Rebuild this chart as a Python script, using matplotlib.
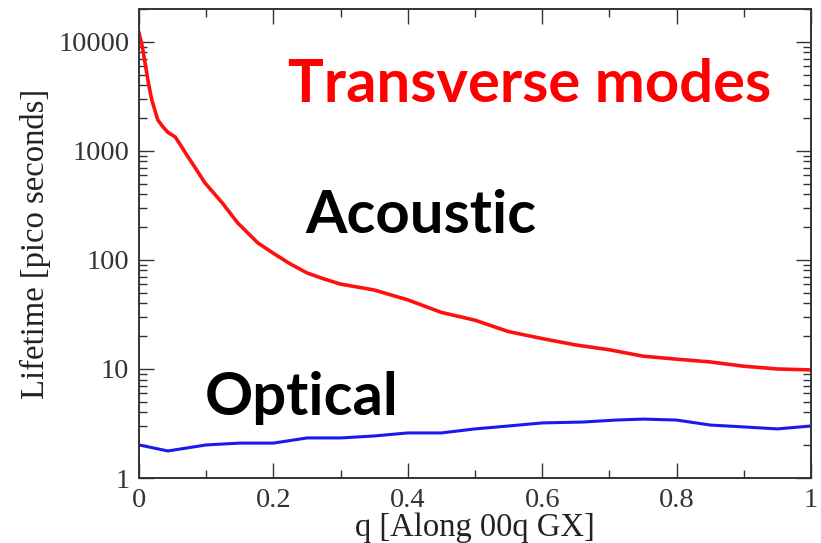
import matplotlib
matplotlib.use("Agg")
import matplotlib.pyplot as plt
from matplotlib.ticker import MultipleLocator, LogLocator, NullFormatter

# values
q_acoustic = [0.0, 0.005, 0.009, 0.014, 0.019, 0.028, 0.036, 0.043, 0.054, 0.063,
              0.073, 0.085, 0.098, 0.124, 0.147, 0.177, 0.2, 0.225, 0.25, 0.275,
              0.3, 0.35, 0.4, 0.45, 0.5, 0.55, 0.6, 0.65,
              0.7, 0.75, 0.8, 0.85, 0.9, 0.95, 1.0]
lt_acoustic = [12100, 9000, 6400, 4200, 2940, 1920, 1650, 1480, 1340, 1100,
               880, 680, 510, 333, 218, 143, 115, 92, 76, 67,
               60, 53, 43, 33, 28, 22, 19, 16.6,
               15, 13.1, 12.3, 11.6, 10.6, 10.0, 9.8]

q_optical = [0.0, 0.043, 0.1, 0.15, 0.2, 0.25, 0.3, 0.35, 0.4, 0.45, 0.5,
             0.55, 0.6, 0.66, 0.71, 0.75, 0.8, 0.85, 0.9, 0.95, 1.0]
lt_optical = [2.01, 1.77, 2.01, 2.09, 2.09, 2.33, 2.33, 2.43, 2.59, 2.59, 2.82,
              3.0, 3.2, 3.26, 3.4, 3.47, 3.4, 3.06, 2.94, 2.82, 3.0]

fig = plt.figure(figsize=(8.21, 5.43), dpi=100)
ax = fig.add_axes([0.1693, 0.1197, 0.8185, 0.8637])

ax.plot(q_acoustic, lt_acoustic, color="#ff1010", lw=2.6)
ax.plot(q_optical, lt_optical, color="#1a1aee", lw=2.2)

ax.set_yscale("log")
ax.set_xlim(0, 1)
ax.set_ylim(1, 20000)

ax.xaxis.set_minor_locator(MultipleLocator(0.1))
ax.yaxis.set_minor_locator(LogLocator(base=10, subs=range(2, 10), numticks=20))
ax.yaxis.set_minor_formatter(NullFormatter())
ax.set_xticks([0, 0.2, 0.4, 0.6, 0.8, 1.0])
ax.set_xticklabels(["0", "0.2", "0.4", "0.6", "0.8", "1"])
ax.set_yticks([1, 10, 100, 1000, 10000])
ax.set_yticklabels(["1", "10", "100", "1000", "10000"])

serif = "Liberation Serif"
for lab in ax.get_xticklabels() + ax.get_yticklabels():
    lab.set_fontfamily(serif)
    lab.set_fontsize(20.5)
    lab.set_color("#222222")

ax.tick_params(which="both", direction="in", top=True, right=True, colors="#333333")
ax.tick_params(which="major", length=11, width=1.0, pad=7)
ax.tick_params(which="minor", length=6, width=1.0)
for s in ax.spines.values():
    s.set_linewidth(1.4)
    s.set_color("#333333")

ax.set_xlabel("q [Along 00q GX]", family=serif, fontsize=23.5, color="#222222", labelpad=0)
ax.set_ylabel("Lifetime [pico seconds]", family=serif, fontsize=23.5, color="#222222", labelpad=5)

bold = dict(family="Lato", fontweight="bold", va="baseline", ha="left")
ax.text(0.221, 0.802, "Transverse modes", transform=ax.transAxes, color="#ff0000",
        fontsize=43, **bold)
ax.text(0.247, 0.522, "Acoustic", transform=ax.transAxes, color="black",
        fontsize=43, **bold)
ax.text(0.098, 0.134, "Optical", transform=ax.transAxes, color="black",
        fontsize=43, **bold)

fig.savefig("out.png", dpi=100)
